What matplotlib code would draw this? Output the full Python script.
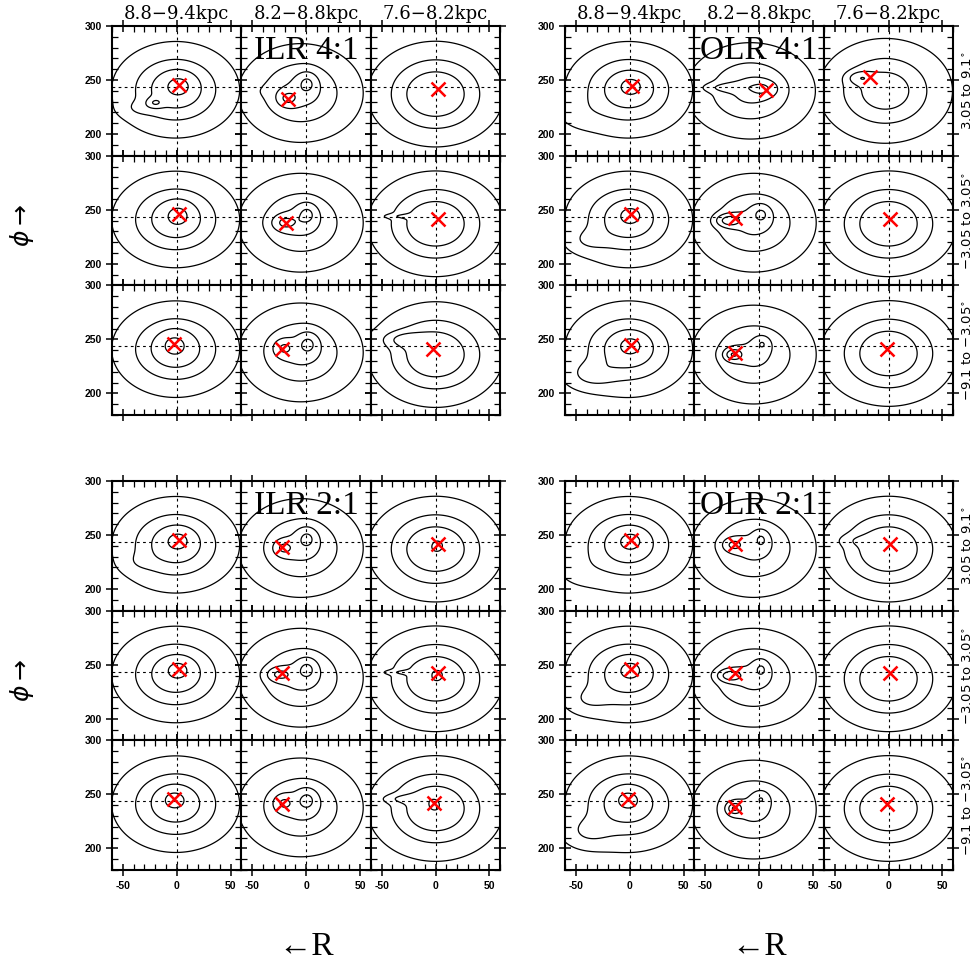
import numpy as np
import matplotlib
matplotlib.use("Agg")
import matplotlib.pyplot as plt
from matplotlib.ticker import MultipleLocator, FixedLocator

# ---------------- data ----------------
blocks = ["ILR 4:1", "OLR 4:1", "ILR 2:1", "OLR 2:1"]
radius_bins = ["8.8\u22129.4kpc", "8.2\u22128.8kpc", "7.6\u22128.2kpc"]
height_bins = ["3.05 to 9.1$^{\\circ}$", "\u22123.05 to 3.05$^{\\circ}$", "\u22129.1 to \u22123.05$^{\\circ}$"]

x_ticks = [-50, 0, 50]
y_ticks = [200, 250, 300]
ref_vR = 0.0
ref_vphi = 243.5
levels = [0.05, 0.26, 0.52, 0.88, 1.2]

# red crosses (mode of each panel): rows = height bins, cols = radius bins
ilr41_mark_x = [[2.5, -17.0, 2.7], [1.7, -18.2, 2.2], [-2.3, -22.2, -2.2]]
ilr41_mark_y = [[245.5, 232.6, 241.6], [245.8, 237.5, 241.8], [245.8, 241.5, 241.2]]
olr41_mark_x = [[1.9, 6.3, -17.0], [1.2, -22.8, 1.7], [1.2, -22.8, -1.8]]
olr41_mark_y = [[244.9, 240.9, 253.2], [245.8, 242.0, 241.8], [245.2, 237.5, 241.5]]
ilr21_mark_x = [[1.7, -22.2, 2.2], [1.7, -22.2, 2.2], [-2.3, -22.2, -1.6]]
ilr21_mark_y = [[245.5, 238.5, 241.5], [246.2, 242.2, 242.2], [246.2, 241.5, 242.5]]
olr21_mark_x = [[1.2, -22.8, 1.7], [1.2, -22.8, 1.7], [-1.8, -22.8, -1.8]]
olr21_mark_y = [[245.2, 241.5, 241.5], [246.2, 242.2, 242.2], [246.0, 238.2, 241.5]]

# density clumps seen in each panel: (vR, vphi, width_R, width_phi, height)
halo_outer = (-1, 241, 25.5, 19.2, 0.75)
halo_mid = (-5, 238, 26, 20.5, 0.60)
halo_inner = (0, 237, 26.5, 20.5, 0.86)

ilr41_clumps = [
    [[halo_outer, (2.5, 245.5, 10, 8, 0.30), (-20, 229, 5, 3, 0.45), (-35, 224, 10, 5, 0.15)],
     [halo_mid, (-17, 233, 6.5, 5, 0.5), (1, 247, 6.5, 7, 0.47), (-45, 240, 12, 5, 0.05)],
     [halo_inner]],
    [[halo_outer, (1.7, 245.8, 9, 8, 0.30)],
     [halo_mid, (-20, 238, 8, 5, 0.5), (1, 246, 6.5, 7, 0.47)],
     [halo_inner, (-33, 244, 12, 1.5, 0.2)]],
    [[halo_outer, (-2.3, 245.8, 9, 8, 0.30)],
     [halo_mid, (-21, 242, 6.5, 5.5, 0.48), (2, 246, 6.5, 7, 0.47)],
     [(0, 236, 26.5, 20.5, 0.86), (-30, 250, 13, 5, 0.35)]],
]
olr41_clumps = [
    [[halo_outer, (1.9, 245, 9, 7, 0.30), (-45, 220, 15, 10, 0.08)],
     [(-8, 240, 27, 20, 0.6), (3, 242, 9, 5, 0.45), (-30, 243, 15, 3, 0.3)],
     [(-3, 240, 27, 21, 0.72), (-26, 252, 8, 4, 0.45)]],
    [[halo_outer, (1.2, 245.8, 9, 7, 0.30), (-38, 222, 12, 7, 0.2)],
     [halo_mid, (-28, 240, 8, 4, 0.75), (2, 246, 6, 6, 0.45)],
     [halo_inner]],
    [[halo_outer, (1.2, 245, 9, 7, 0.30), (-35, 218, 14, 8, 0.3)],
     [(-5, 236, 26, 20.5, 0.6), (-24, 236, 6, 4, 0.8), (3, 246, 5, 5, 0.4)],
     [halo_inner]],
]
ilr21_clumps = [
    [[halo_outer, (1.7, 245.5, 9, 7, 0.30), (-35, 225, 10, 6, 0.1)],
     [halo_mid, (-21, 238, 6.5, 5, 0.5), (1, 247, 6.5, 7, 0.47)],
     [halo_inner, (2.2, 241.5, 4, 4, 0.1)]],
    [[halo_outer, (1.7, 246.2, 9, 7, 0.30)],
     [halo_mid, (-25, 241, 8, 4.5, 0.57), (1, 246, 6.5, 7, 0.47)],
     [halo_inner, (2.2, 242, 4, 4, 0.1), (-33, 243, 12, 1.5, 0.2)]],
    [[halo_outer, (-2.3, 246.2, 9, 7, 0.30)],
     [halo_mid, (-21, 242, 6.5, 5.5, 0.48), (1, 245, 6.5, 7, 0.47)],
     [halo_inner, (-1.6, 242.5, 4, 4, 0.1), (-32, 246, 13, 3, 0.25)]],
]
olr21_clumps = [
    [[halo_outer, (1.2, 245.2, 9, 7, 0.30), (-45, 218, 15, 10, 0.08)],
     [halo_mid, (-24, 241, 7, 4.5, 0.55), (2, 246, 5, 6, 0.42)],
     [halo_inner, (-32, 245, 12, 4, 0.15)]],
    [[halo_outer, (1.2, 246.2, 9, 7, 0.30), (-38, 218, 13, 8, 0.2)],
     [halo_mid, (-27, 240, 8, 4, 0.75), (2, 246, 5, 6, 0.42)],
     [halo_inner]],
    [[halo_outer, (-1.8, 246, 9, 7, 0.30), (-38, 216, 14, 9, 0.25)],
     [(-5, 236, 26, 20.5, 0.6), (-23, 237, 5, 4, 0.8), (2, 246, 5, 5, 0.38)],
     [halo_inner]],
]

block_marks_x = [ilr41_mark_x, olr41_mark_x, ilr21_mark_x, olr21_mark_x]
block_marks_y = [ilr41_mark_y, olr41_mark_y, ilr21_mark_y, olr21_mark_y]
block_clumps = [ilr41_clumps, olr41_clumps, ilr21_clumps, olr21_clumps]

# ---------------- figure ----------------
W, H = 980, 963
fig = plt.figure(figsize=(W / 100, H / 100), dpi=100)

block_left = [112, 565, 112, 565]
block_top = [26, 26, 481, 481]
pw, ph = 129.4, 129.7

vR = np.linspace(-60, 60, 241)
vphi = np.linspace(180, 300, 241)
GX, GY = np.meshgrid(vR, vphi)

tick_font = dict(family="Liberation Sans", weight="bold", size=7.5)

for b in range(4):
    for r in range(3):
        for c in range(3):
            left = (block_left[b] + c * pw) / W
            bottom = 1 - (block_top[b] + (r + 1) * ph) / H
            ax = fig.add_axes([left, bottom, pw / W, ph / H])
            dens = np.zeros_like(GX)
            for (x0, y0, sx, sy, a) in block_clumps[b][r][c]:
                dens += a * np.exp(-0.5 * (((GX - x0) / sx) ** 2 + ((GY - y0) / sy) ** 2))
            ax.contour(GX, GY, dens, levels=levels, colors="black", linewidths=0.9)
            ax.axvline(ref_vR, color="black", lw=0.8, ls=(0, (2.5, 3)))
            ax.axhline(ref_vphi, color="black", lw=0.8, ls=(0, (2.5, 3)))
            ax.plot(block_marks_x[b][r][c], block_marks_y[b][r][c], marker="x",
                    color="red", ms=10, mew=1.8, ls="none")
            ax.set_xlim(-60, 60)
            ax.set_ylim(180, 300)
            ax.xaxis.set_major_locator(FixedLocator(x_ticks))
            ax.yaxis.set_major_locator(FixedLocator(y_ticks))
            ax.xaxis.set_minor_locator(MultipleLocator(10))
            ax.yaxis.set_minor_locator(MultipleLocator(10))
            ax.tick_params(which="both", top=True, right=True, labelsize=7.5)
            ax.tick_params(which="major", direction="inout", length=9, width=1.1)
            ax.tick_params(which="minor", direction="in", length=4, width=0.9)
            for s in ax.spines.values():
                s.set_linewidth(1.5)
            if c == 0:
                ax.set_yticklabels([str(v) for v in y_ticks], fontdict=tick_font)
            else:
                ax.set_yticklabels([])
            if b >= 2 and r == 2:
                ax.set_xticklabels([str(v) for v in x_ticks], fontdict=tick_font)
            else:
                ax.set_xticklabels([])
            ax.tick_params(axis="both", pad=3)
            if r == 0 and c == 1:
                ax.text(0.5, 0.93, blocks[b], transform=ax.transAxes, ha="center",
                        va="top", fontsize=24, family="Liberation Serif")
            if b < 2 and r == 0:
                ax.text(0.5, 1.0 + 12 / ph, radius_bins[c], transform=ax.transAxes,
                        ha="center", va="center", fontsize=13, family="DejaVu Serif")
            if b in (1, 3) and c == 2:
                ax.text(1.0 + 15 / pw, 0.5, height_bins[r], transform=ax.transAxes,
                        ha="center", va="center", rotation=90, fontsize=9.5,
                        family="DejaVu Sans")

# axis names
for b in (0, 2):
    yc = 1 - (block_top[b] + 1.5 * ph + 5) / H
    fig.text(22 / W, yc, r"$\phi\rightarrow$", rotation=90, ha="center",
             va="center", fontsize=18)
for b in (2, 3):
    xc = (block_left[b] + 1.5 * pw) / W
    fig.text(xc, 1 - 947 / H, "\u2190R", ha="center", va="center",
             fontsize=24, family=["Liberation Serif", "DejaVu Sans"])

fig.savefig("out.png", dpi=100)
